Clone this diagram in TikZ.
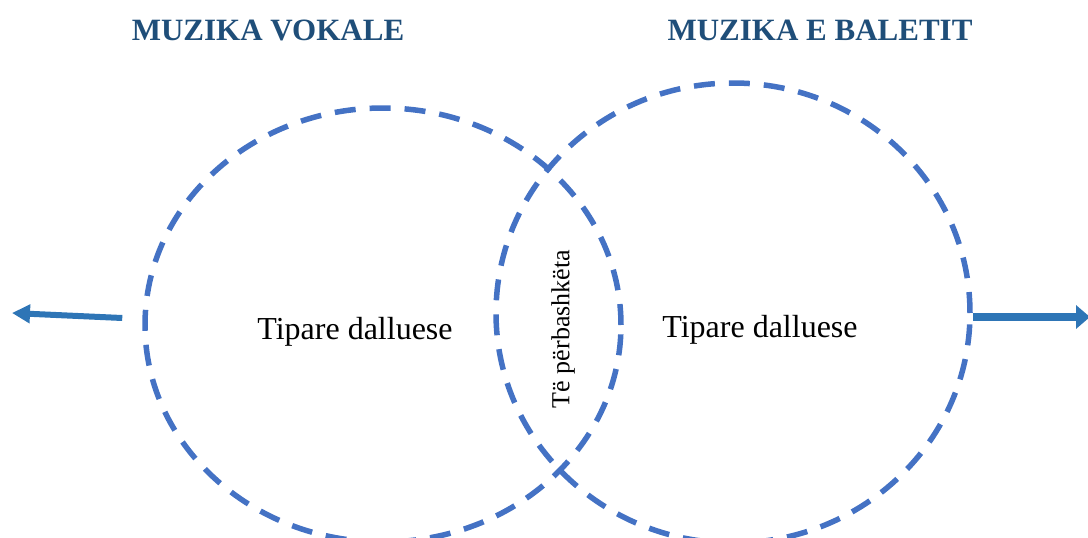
\documentclass[tikz,border=0pt]{standalone}
\usepackage{fontspec}
\setmainfont{Liberation Serif}
\usepackage{tikz}
\usetikzlibrary{shapes.geometric, arrows.meta, calc}
\definecolor{ringblue}{HTML}{4472C4}
\definecolor{arrowblue}{HTML}{2E75B6}
\definecolor{headblue}{HTML}{1F4E79}

\begin{document}
\begin{tikzpicture}[
    x=1pt, y=-1pt,
    ring/.style={ellipse, draw=ringblue, line width=5.5pt, dash pattern=on 21pt off 14pt, inner sep=0pt},
    heading/.style={font=\fontsize{31}{36}\selectfont\bfseries, text=headblue},
    trait/.style={font=\fontsize{32}{36}\selectfont},
    pointer/.style={arrowblue}
]
\useasboundingbox (0,0) rectangle (1088,538);
\clip (0,0) rectangle (1088,538);

% Titles
\node[heading] (vokaletitle) at (268,30) {MUZIKA VOKALE};
\node[heading] (balettitle) at (820,30) {MUZIKA E BALETIT};

% Circles
\node[ring, minimum width=476pt, minimum height=434pt] (vokale) at (383,325) {};
\node[ring, minimum width=474pt, minimum height=460pt] (balet) at (733,313) {};

% Texts
\node[trait] (leftfeat) at (355,332) {Tipare dalluese};
\node[trait] (rightfeat) at (760,330) {Tipare dalluese};
\node[trait, rotate=90, font=\fontsize{26}{30}\selectfont] (common) at (563,329) {Të përbashkëta};

% Arrows
\coordinate (leftend) at (12,313);
\coordinate (rightend) at (1090,317);
\draw[pointer, line width=6pt, -{Triangle[length=18pt, width=18pt]}] ($(vokale.west)+(-20,-7)$) -- (leftend);
\draw[pointer, line width=8pt, -{Triangle[length=14pt, width=23pt]}] ($(balet.east)+(0,4)$) -- (rightend);
\end{tikzpicture}
\end{document}
